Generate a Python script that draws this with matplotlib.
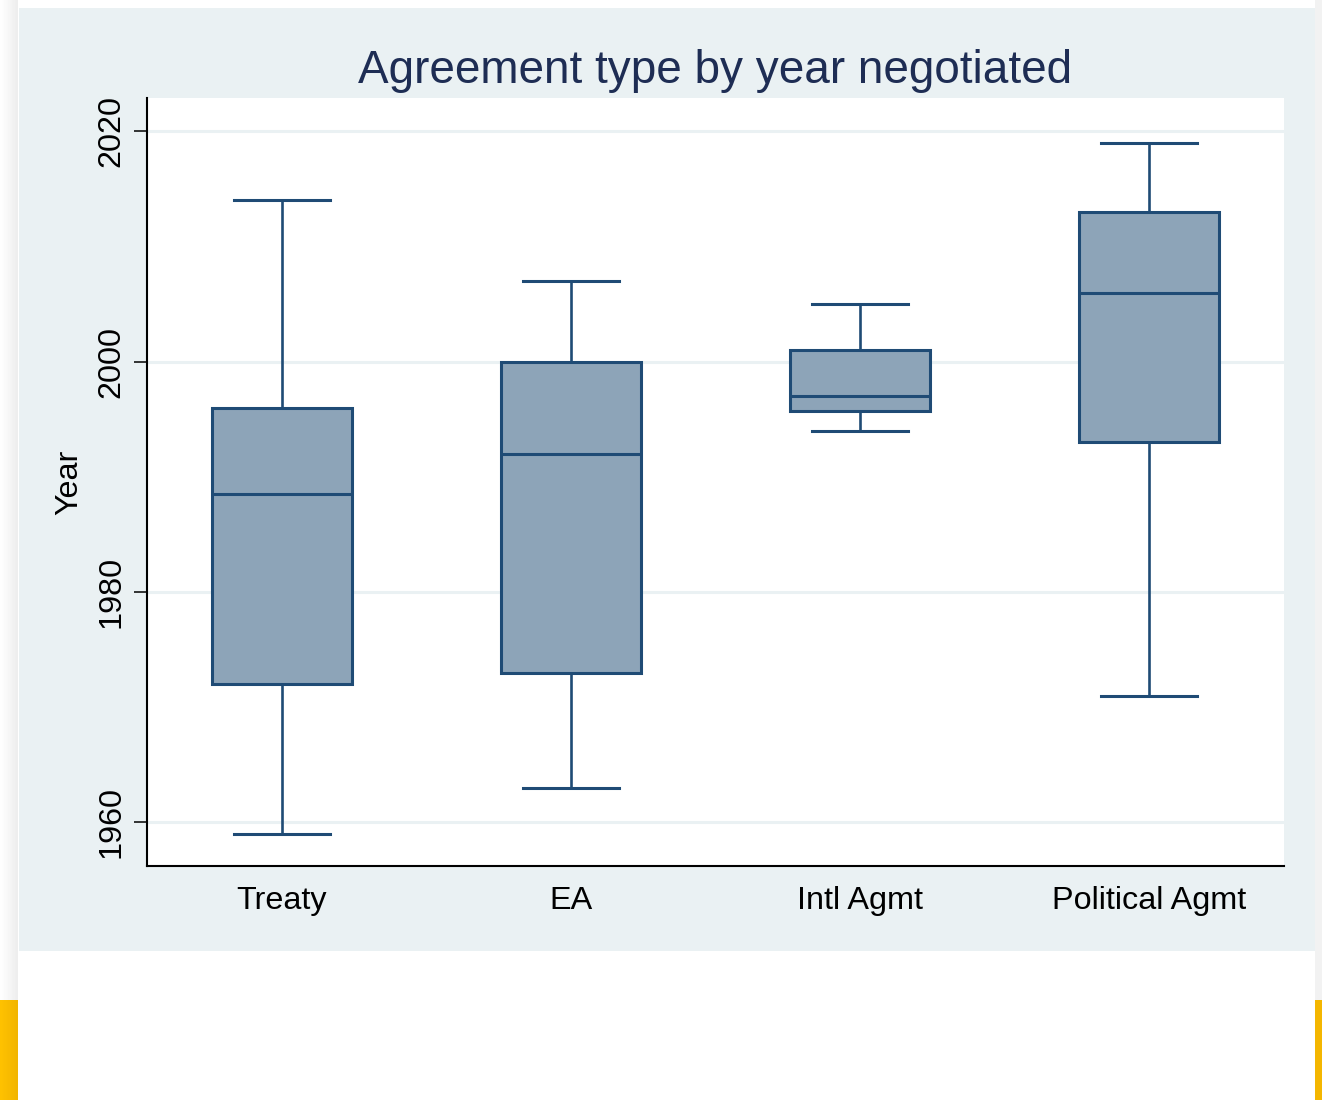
import numpy as np
import matplotlib.pyplot as plt
from matplotlib.patches import Rectangle
from matplotlib.colors import LinearSegmentedColormap

plt.rcParams['font.family'] = ['Liberation Sans', 'DejaVu Sans']

# box plot summary per agreement type (years)
categories = ['Treaty', 'EA', 'Intl Agmt', 'Political Agmt']
whisker_low = [1959, 1963, 1994, 1971]
q1 = [1972, 1973, 1995.7, 1993]
median = [1988.5, 1992, 1997, 2006]
q3 = [1996, 2000, 2001, 2013]
whisker_high = [2014, 2007, 2005, 2019]
yticks = [1960, 1980, 2000, 2020]

W, H = 1322, 1100
fig = plt.figure(figsize=(W / 100, H / 100), dpi=100)
fig.patch.set_facecolor('white')

def px_rect(x0, y0, x1, y1, color):
    fig.patches.append(Rectangle((x0 / W, 1 - y1 / H), (x1 - x0) / W, (y1 - y0) / H,
                                 transform=fig.transFigure, facecolor=color,
                                 edgecolor='none', zorder=-10))

# page edges behind the graph panel
grad = fig.add_axes([0, 1 - 1000 / H, 18 / W, 1000 / H])
grad.imshow(np.linspace(1.0, 0.93, 50)[None, :], cmap='gray', vmin=0, vmax=1,
            aspect='auto', extent=[0, 1, 0, 1])
grad.axis('off')
ylw = fig.add_axes([0, 0, 18 / W, 100 / H])
ylw.imshow(np.linspace(0, 1, 50)[None, :],
           cmap=LinearSegmentedColormap.from_list('y', ['#FFC200', '#F2B500']),
           aspect='auto', extent=[0, 1, 0, 1])
ylw.axis('off')
px_rect(1315, 0, W, 1000, '#F2F2F2')
px_rect(1315, 1000, W, H, '#F4B600')
px_rect(19, 8, 1315, 951, '#EAF1F3')

ax = fig.add_axes([147 / W, 1 - 866 / H, (1284 - 147) / W, (866 - 98) / H])
ax.set_facecolor('white')

stats = []
for i, name in enumerate(categories):
    stats.append(dict(label=name, whislo=whisker_low[i], q1=q1[i], med=median[i],
                      q3=q3[i], whishi=whisker_high[i], fliers=[]))

edge = '#1F4B75'
ax.bxp(stats, positions=range(1, len(categories) + 1), widths=0.485,
       capwidths=0.33, patch_artist=True, showfliers=False,
       boxprops=dict(facecolor='#8DA4B8', edgecolor=edge, linewidth=2.2),
       medianprops=dict(color=edge, linewidth=2.2),
       whiskerprops=dict(color=edge, linewidth=1.9),
       capprops=dict(color=edge, linewidth=2.2), zorder=3)

ax.set_xlim(0.533, 4.467)
ax.set_ylim(1956.2, 2022.9)
ax.set_yticks(yticks)
ax.set_yticklabels([str(t) for t in yticks], rotation=90, va='center')
ax.yaxis.grid(True, color='#EAF1F3', linewidth=2.2, zorder=0)
ax.set_axisbelow(True)

for s in ['top', 'right']:
    ax.spines[s].set_visible(False)
for s in ['left', 'bottom']:
    ax.spines[s].set_linewidth(1.5)
    ax.spines[s].set_color('black')

ax.tick_params(axis='y', length=9.5, width=1.1, labelsize=23.3, pad=5)
ax.tick_params(axis='x', length=0, labelsize=23.3, pad=14.5)
ax.set_ylabel('Year', fontsize=23.3, labelpad=9)
ax.set_title('Agreement type by year negotiated', fontsize=33,
             color='#1E2D54', pad=11)

fig.savefig('out.png', dpi=100, facecolor=fig.get_facecolor())
